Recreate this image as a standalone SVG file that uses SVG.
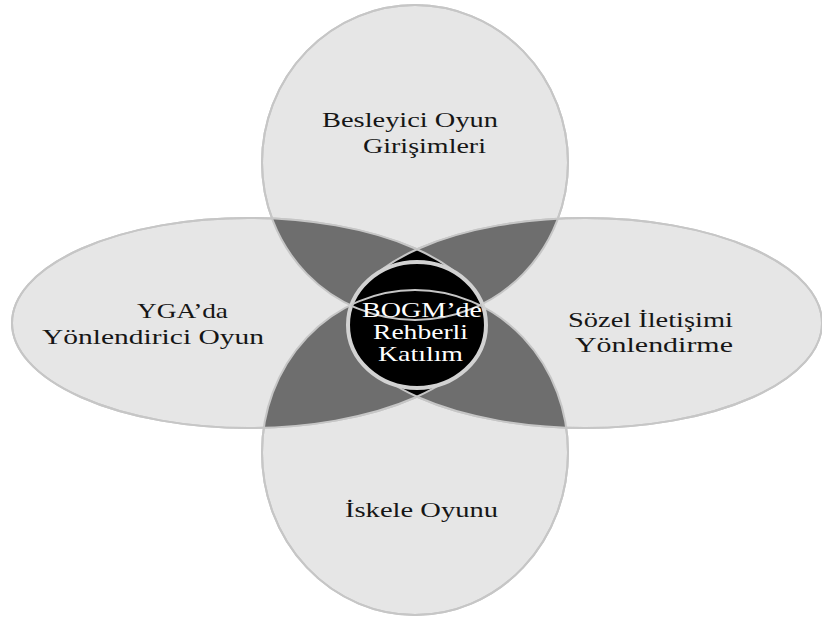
<svg xmlns="http://www.w3.org/2000/svg" xmlns:xlink="http://www.w3.org/1999/xlink" width="822" height="620" viewBox="0 0 822 620">
  <style>
    .petal { fill: #e6e6e6; stroke: #c6c6c6; stroke-width: 2; }
    .line { fill: none; stroke: #c6c6c6; stroke-width: 2; }
    .dark { fill: #6e6e6e; }
    .core { fill: #000000; }
    .hub { fill: #000000; stroke: #d2d2d2; stroke-width: 4; }
    .lbl { font-family: "Liberation Serif", "Times New Roman", serif; font-size: 22px; fill: #161616; }
    .clbl { font-family: "Liberation Serif", "Times New Roman", serif; font-size: 21px; fill: #ffffff; }
  </style>
  <defs>
    <ellipse id="e-top" cx="415" cy="162.5" rx="153" ry="157.5"/>
    <ellipse id="e-bottom" cx="415" cy="452.5" rx="153" ry="162.5"/>
    <ellipse id="e-left" cx="248.5" cy="323" rx="236.5" ry="105"/>
    <ellipse id="e-right" cx="585.5" cy="323" rx="236.5" ry="105"/>
    <clipPath id="c-top"><use xlink:href="#e-top"/></clipPath>
    <clipPath id="c-bottom"><use xlink:href="#e-bottom"/></clipPath>
    <clipPath id="c-left"><use xlink:href="#e-left"/></clipPath>
    <clipPath id="c-hub"><ellipse cx="417" cy="325" rx="69" ry="63"/></clipPath>
  </defs>
  <rect width="822" height="620" fill="#ffffff"/>

  <g id="node-top">
    <use xlink:href="#e-top" class="petal"/>
    <text class="lbl" transform="translate(322,127) scale(1.3,1)" textLength="135.4" lengthAdjust="spacingAndGlyphs">Besleyici Oyun</text>
    <text class="lbl" transform="translate(363,153) scale(1.3,1)" textLength="94.6" lengthAdjust="spacingAndGlyphs">Girişimleri</text>
  </g>
  <g id="node-bottom">
    <use xlink:href="#e-bottom" class="petal"/>
    <text class="lbl" transform="translate(345,517) scale(1.3,1)" textLength="117.7" lengthAdjust="spacingAndGlyphs">İskele Oyunu</text>
  </g>
  <g id="node-left">
    <use xlink:href="#e-left" class="petal"/>
    <text class="lbl" transform="translate(137,318) scale(1.3,1)" textLength="70" lengthAdjust="spacingAndGlyphs">YGA’da</text>
    <text class="lbl" transform="translate(42,344) scale(1.3,1)" textLength="170.8" lengthAdjust="spacingAndGlyphs">Yönlendirici Oyun</text>
  </g>
  <g id="node-right">
    <use xlink:href="#e-right" class="petal"/>
    <text class="lbl" transform="translate(568,327) scale(1.3,1)" textLength="126.9" lengthAdjust="spacingAndGlyphs">Sözel İletişimi</text>
    <text class="lbl" transform="translate(575,352) scale(1.3,1)" textLength="121.5" lengthAdjust="spacingAndGlyphs">Yönlendirme</text>
  </g>

  <g id="overlaps">
    <use xlink:href="#e-left" class="dark" clip-path="url(#c-top)"/>
    <use xlink:href="#e-left" class="dark" clip-path="url(#c-bottom)"/>
    <use xlink:href="#e-right" class="dark" clip-path="url(#c-top)"/>
    <use xlink:href="#e-right" class="dark" clip-path="url(#c-bottom)"/>
    <use xlink:href="#e-right" class="core" clip-path="url(#c-left)"/>
  </g>

  <g id="outlines">
    <use xlink:href="#e-top" class="line"/>
    <use xlink:href="#e-bottom" class="line"/>
    <use xlink:href="#e-left" class="line"/>
    <use xlink:href="#e-right" class="line"/>
  </g>

  <g id="node-center">
    <ellipse class="hub" cx="417" cy="325" rx="69" ry="63"/>
    <g clip-path="url(#c-hub)">
      <use xlink:href="#e-top" class="line"/>
      <use xlink:href="#e-bottom" class="line"/>
    </g>
    <text class="clbl" transform="translate(362,317) scale(1.3,1)" textLength="92.3" lengthAdjust="spacingAndGlyphs">BOGM’de</text>
    <text class="clbl" transform="translate(373,339) scale(1.3,1)" textLength="73" lengthAdjust="spacingAndGlyphs">Rehberli</text>
    <text class="clbl" transform="translate(378,361) scale(1.3,1)" textLength="65.4" lengthAdjust="spacingAndGlyphs">Katılım</text>
  </g>
</svg>
